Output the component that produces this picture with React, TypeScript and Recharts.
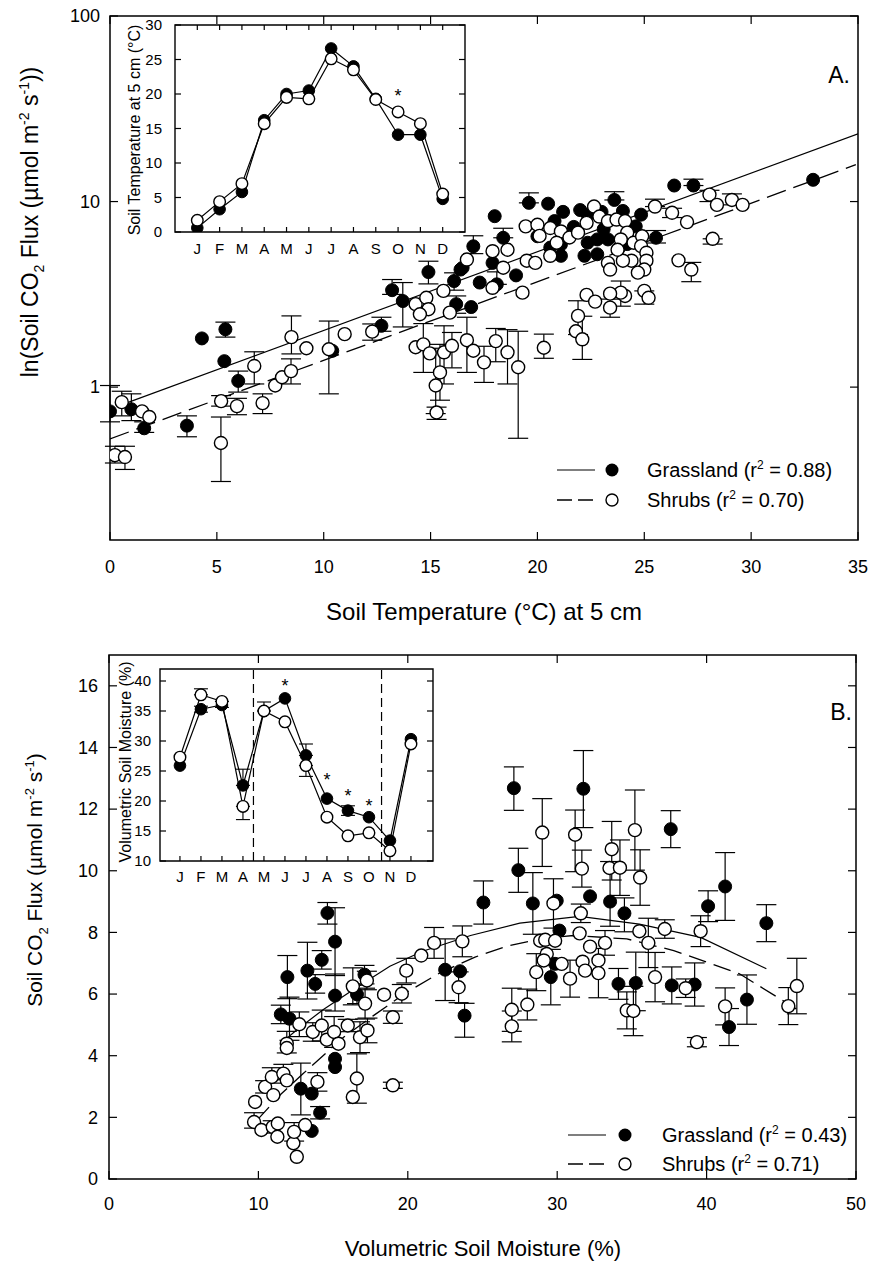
import React from 'react';
import { ScatterChart, Scatter, XAxis, YAxis, ErrorBar, ReferenceArea, ReferenceLine, Label } from 'recharts';

const FONT = '"Liberation Sans", Arial, Helvetica, sans-serif';

// ---------- Panel A: soil temperature vs flux (log) ----------
// rows: [temperature, flux, errLow, errHigh]
const grassTempFlux: number[][] = [
  [0.0, 0.74, 0.09, 0.28], [1.0, 0.76, 0.1, 0.16], [1.6, 0.6, 0.03, 0.05], [3.6, 0.62, 0.08, 0.08],
  [4.3, 1.83], [5.4, 2.05, 0.19, 0.19], [5.35, 1.38], [6.0, 1.08, 0.14, 0.14], [10.4, 1.57],
  [12.7, 2.14, 0.14, 0.24], [13.2, 3.33, 0.17, 0.47], [13.7, 2.91, 0.8, 0.75], [14.9, 4.17, 0.57, 0.6],
  [16.1, 3.73, 0.4, 0.4], [16.4, 4.3], [16.2, 2.8, 0.3, 0.3], [16.9, 2.7], [17.3, 3.66],
  [18.0, 8.34], [19.6, 9.84, 0, 1.3], [20.5, 9.74], [21.2, 8.8], [20.8, 7.85], [17.0, 5.74, 0.5, 0.8],
  [18.4, 6.38, 0, 0.8], [17.9, 4.67], [16.5, 4.4], [18.1, 3.58, 0, 0.6], [21.1, 5.1], [22.2, 5.1],
  [22.8, 5.2], [22.35, 6.0], [22.35, 8.5], [23.6, 10.2, 0, 1.1], [24.0, 8.9], [24.85, 8.5],
  [24.6, 7.35], [23.1, 7.1], [23.3, 6.25], [25.55, 6.38, 0.4, 0.6], [26.4, 12.2], [27.3, 12.2, 0, 1.0],
  [32.9, 13.1], [20.6, 5.65], [21.1, 5.87], [22.8, 6.25], [19.0, 4.0], [20.0, 6.5], [21.7, 7.3],
  [23.8, 5.6], [24.2, 5.9], [22.0, 9.0], [23.0, 8.8],
];
const shrubTempFlux: number[][] = [
  [0.55, 0.83, 0.13, 0.12], [0.23, 0.43, 0.04, 0.05], [0.7, 0.42, 0.06, 0.06], [1.5, 0.74], [1.84, 0.69],
  [5.2, 0.84, 0.05, 0.06], [5.19, 0.5, 0.19, 0.19], [5.94, 0.79, 0.08, 0.08], [6.75, 1.3, 0.26, 0.25],
  [7.14, 0.82, 0.1, 0.1], [7.73, 1.02], [8.05, 1.13], [8.47, 1.22, 0.18, 0.2], [8.49, 1.86, 0.35, 0.56],
  [9.19, 1.62], [10.24, 1.6, 0.68, 0.67], [10.98, 1.93], [12.27, 1.99, 0.2, 0.2], [14.3, 1.64],
  [14.66, 1.7, 0.5, 0.5], [14.96, 1.52], [15.24, 1.02, 0.3, 0.6], [15.44, 1.2, 0.35, 0.5],
  [15.28, 0.73, 0.06, 0.05], [15.63, 1.54, 0.5, 0.6], [16.0, 1.67, 0.4, 0.3], [16.7, 1.79, 0.59, 0.59],
  [17.0, 1.57], [14.3, 2.8], [14.8, 3.03], [14.9, 2.63], [14.5, 2.47], [15.6, 3.3], [15.9, 2.52],
  [16.7, 4.87], [19.45, 7.35], [20.0, 7.5], [20.1, 6.53], [20.6, 7.2], [21.1, 6.9], [20.9, 6.0],
  [21.5, 6.4], [21.9, 6.8], [22.3, 7.68], [22.65, 9.4], [22.9, 8.3], [23.3, 7.85], [23.7, 8.0],
  [24.1, 7.85], [24.2, 6.8], [23.9, 6.25], [24.5, 6.0], [24.9, 6.5], [24.85, 5.75], [25.1, 5.3],
  [25.1, 4.8], [25.0, 4.3], [24.4, 4.8], [24.0, 4.8], [23.3, 4.67], [23.75, 5.5], [23.4, 4.3],
  [24.7, 4.14], [25.5, 9.4, 0, 0.9], [26.3, 8.7, 0.5, 0.5], [27.0, 7.75], [28.05, 10.9, 0.9, 0.6],
  [28.4, 9.6], [29.1, 10.2, 0.6, 0.8], [29.6, 9.6], [28.2, 6.3, 0.4, 0], [26.6, 4.82],
  [27.2, 4.3, 0.6, 0.4], [25.0, 3.3, 0.5, 0], [25.2, 3.03], [24.1, 3.1], [23.9, 3.23, 0.5, 0.5],
  [23.4, 3.19], [23.4, 2.68, 0.3, 0.3], [22.3, 3.14], [22.7, 2.89], [21.9, 2.42, 0.5, 0.5], [21.8, 2.0],
  [22.1, 1.81, 0.4, 0.6], [20.3, 1.63, 0.2, 0.3], [19.1, 1.28, 0.75, 0.72], [18.6, 1.54, 0.5, 0.5],
  [18.05, 1.77, 0.4, 0.3], [17.5, 1.36, 0.3, 0.3], [19.3, 3.23], [17.9, 3.43], [18.4, 4.4], [18.6, 5.5],
  [17.9, 5.4], [19.5, 4.8], [19.9, 4.67], [20.6, 5.1],
];
const grassTempFit: number[][] = [[0.5, 0.8], [35, 23.2]];
const shrubTempFit: number[][] = [[0, 0.526], [34.9, 15.8]];
const tempTicks = [0, 5, 10, 15, 20, 25, 30, 35];
const logFluxTicks = [1, 10, 100];

// ---------- Panel B: soil moisture vs flux ----------
const grassMoistFlux: number[][] = [
  [14.62, 8.63, 0.36, 0.34], [15.13, 7.7, 1.1, 1.1], [14.24, 7.11, 0.3, 0.3], [13.28, 6.76, 0.92, 0.92],
  [13.8, 6.33, 0.3, 0.3], [11.94, 6.55, 0.7, 0.7], [15.13, 5.95, 0.5, 0.7], [11.5, 5.34, 0.3, 0.3],
  [12.08, 5.2, 0.7, 0.7], [17.1, 6.63, 0.3, 0.3], [16.6, 5.99, 0.3, 0.3], [15.13, 3.9], [15.13, 3.63],
  [12.84, 2.93, 0.85, 0.83], [13.57, 2.77], [14.13, 2.15, 0.2, 0.2], [13.57, 1.56], [22.5, 6.79, 1.0, 1.0],
  [23.5, 6.74], [23.8, 5.3, 0.7, 0.4], [27.1, 12.68, 0.72, 0.69], [31.75, 12.66, 1.26, 1.24],
  [37.6, 11.35, 0.6, 0.6], [27.4, 10.02, 0.72, 0.71], [25.06, 8.97, 0.7, 0.7], [28.37, 8.94, 1.0, 1.0],
  [29.97, 9.03], [32.2, 9.17], [33.54, 9.0, 0.8, 1.3], [34.5, 8.62, 0.6, 0.5], [40.1, 8.85, 0.5, 0.5],
  [41.24, 9.49, 1.1, 1.1], [44.0, 8.3, 0.6, 0.6], [30.15, 8.06], [29.57, 6.55, 0.9, 0.9], [29.86, 6.98],
  [34.1, 6.33, 0.5, 0.5], [35.26, 6.36, 0.9, 1.0], [37.67, 6.28, 0.6, 0.6], [39.2, 6.31, 0.7, 0.7],
  [42.7, 5.82, 0.8, 0.8], [41.5, 4.93, 0.6, 0.6],
];
const shrubMoistFlux: number[][] = [
  [9.78, 2.5], [9.71, 1.85, 0.2, 0.3], [10.2, 1.59], [10.45, 2.99, 0.2, 0.2], [10.9, 3.31, 0.2, 0.3],
  [11.0, 2.72], [10.96, 1.69, 0.2, 0.2], [11.3, 1.8], [11.27, 1.37], [11.67, 3.42, 0.2, 0.3], [11.9, 3.2],
  [11.9, 4.39, 0.3, 0.4], [11.9, 4.25], [12.34, 1.16], [12.39, 1.53, 0.3, 0.3], [12.57, 0.72],
  [12.74, 5.02, 0.4, 0.4], [13.13, 1.75], [13.64, 4.77, 0.3, 0.3], [13.95, 3.15, 0.3, 0.3],
  [14.24, 4.98, 0.5, 0.5], [14.58, 4.52], [15.07, 4.77, 0.5, 0.5], [15.36, 4.39], [15.98, 4.98, 0.2, 0.2],
  [16.32, 6.25, 0.6, 0.6], [16.8, 4.6, 0.5, 0.5], [17.3, 4.82, 0.4, 0.4], [17.14, 5.69, 0.5, 0.5],
  [17.26, 6.44, 0.3, 0.3], [16.59, 3.26, 0.8, 0.8], [16.32, 2.66], [18.41, 5.98], [19.0, 5.25, 0.2, 0.2],
  [19.0, 3.04, 0.1, 0.1], [19.6, 6.01, 0.3, 0.3], [19.9, 6.76, 0.4, 0.4], [20.9, 7.25], [21.76, 7.66, 0.5, 0.5],
  [23.65, 7.71, 0.5, 0.5], [23.4, 6.22, 0.5, 0.5], [29.0, 11.24, 1.1, 1.1], [31.2, 11.17, 1.2, 0.8],
  [35.2, 11.32, 1.3, 1.3], [33.65, 10.7, 1.0, 0.9], [33.5, 10.09], [34.2, 10.1, 0.9, 0.9],
  [31.65, 10.07, 0.6, 0.6], [35.55, 9.78, 0.9, 0.9], [29.75, 8.94, 0.8, 0.8], [31.58, 8.62, 0.3, 0.3],
  [28.86, 7.73], [29.2, 7.76], [29.86, 7.73], [31.5, 7.97], [32.2, 7.54], [33.2, 7.66, 0.4, 0.4],
  [35.5, 8.04], [36.1, 7.66, 0.8, 0.8], [37.2, 8.11, 0.3, 0.3], [39.6, 8.04, 0.5, 0.5], [29.3, 7.3],
  [29.1, 7.09], [28.6, 6.71, 0.6, 0.6], [30.3, 6.98], [30.86, 6.5, 0.6, 0.6], [31.7, 7.05], [32.76, 7.09],
  [32.76, 6.68, 0.8, 0.8], [31.87, 6.76], [36.55, 6.55, 0.8, 0.8], [38.6, 6.19, 0.3, 0.3],
  [41.24, 5.6, 0.6, 0.6], [45.47, 5.61, 0.6, 0.6], [46.04, 6.26, 0.9, 0.9], [26.96, 5.49, 0.7, 0.7],
  [28.0, 5.66, 0.5, 0.5], [26.96, 4.95, 0.5, 0.5], [34.66, 5.47, 0.6, 0.6], [35.1, 5.45, 0.8, 0.8],
  [39.35, 4.44, 0.15, 0.15],
];
const grassMoistFit: number[][] = [
  [11.5, 4.4], [12.6, 4.85], [14.35, 5.5], [16.6, 6.22], [18.8, 6.9], [21, 7.39], [24.2, 7.9],
  [27.5, 8.3], [31.5, 8.52], [35.5, 8.27], [39.6, 7.84], [44, 6.82],
];
const shrubMoistFit: number[][] = [
  [9.9, 1.9], [11.5, 2.75], [13, 3.42], [15.7, 4.6], [17.7, 5.3], [19.9, 6.05], [22.2, 6.7], [24.5, 7.2],
  [26.6, 7.55], [29, 7.8], [31.1, 7.9], [34.66, 7.79], [37.8, 7.41], [42.2, 6.66], [46, 5.52],
];
const moistTicks = [0, 10, 20, 30, 40, 50];
const fluxTicks = [0, 2, 4, 6, 8, 10, 12, 14, 16];

// ---------- Insets ----------
const MONTHS = ['J', 'F', 'M', 'A', 'M', 'J', 'J', 'A', 'S', 'O', 'N', 'D'];
const MONTH_IDX = [0, 1, 2, 3, 4, 5, 6, 7, 8, 9, 10, 11];
const grassMonthTemp = [0.6, 3.3, 5.8, 16.2, 20.0, 20.5, 26.6, 24.0, 19.3, 14.1, 14.1, 4.8];
const shrubMonthTemp = [1.7, 4.4, 7.0, 15.7, 19.5, 19.3, 25.1, 23.5, 19.2, 17.4, 15.7, 5.5];
const tempStarMonths = [9];
const tempStarLevels = [20.3];
const insetTempTicks = [0, 5, 10, 15, 20, 25, 30];

const grassMonthMoist = [25.9, 35.3, 36.0, 22.6, 35.0, 37.1, 27.6, 20.4, 18.4, 17.3, 13.4, 30.3];
const grassMonthMoistErr: (number[] | null)[] = [null, [0.5, 0.5], [0.4, 0.6], [0, 2.7], null, null, [0, 1.9], null, [0.8, 0.8], null, null, null];
const shrubMonthMoist = [27.3, 37.7, 36.6, 19.1, 35.0, 33.2, 25.9, 17.3, 14.2, 14.7, 11.7, 29.5];
const shrubMonthMoistErr: (number[] | null)[] = [null, [0, 1.0], null, [2.2, 0], [0, 1.5], null, [1.8, 0], null, null, null, null, null];
const moistStarMonths = [5, 7, 8, 9];
const moistStarLevels = [39.8, 24.1, 21.5, 19.9];
const moistDividers = [3.5, 9.6];
const insetMoistTicks = [10, 15, 20, 25, 30, 35, 40];

// ---------- helpers ----------
const pts = (rows: number[][]) =>
  rows.map((r) => ({ x: r[0], y: r[1], err: r.length > 2 ? [r[2], r[3]] : undefined }));
const monthPts = (vals: number[], errs?: (number[] | null)[]) =>
  vals.map((v, i) => ({ x: i, y: v, err: errs && errs[i] ? errs[i] : undefined }));
const starPts = (months: number[], levels: number[]) => months.map((m, i) => ({ x: m, y: levels[i] }));

const filledDot = (r: number) => (p: any) => (
  <circle cx={p.cx} cy={p.cy} r={r} fill="#000" stroke="#000" strokeWidth={1} />
);
const openDot = (r: number) => (p: any) => (
  <circle cx={p.cx} cy={p.cy} r={r} fill="#fff" stroke="#000" strokeWidth={1.4} />
);
const noDot = () => <g />;
const starShape = (p: any) => (
  <text x={p.cx} y={p.cy + 10} textAnchor="middle" fontSize={18} fontFamily={FONT} fill="#000" stroke="none">*</text>
);

const makeXTick = (bottom: number, top: number | null, len: number, fs: number, labelY: number, fmt?: (v: any) => string) =>
  (props: any) => {
    const x = props.x;
    const v = props.payload.value;
    return (
      <g>
        <line x1={x} x2={x} y1={bottom} y2={bottom - len} stroke="#000" strokeWidth={1.2} />
        {top !== null && <line x1={x} x2={x} y1={top} y2={top + len} stroke="#000" strokeWidth={1.2} />}
        <text x={x} y={labelY} textAnchor="middle" fontSize={fs} fontFamily={FONT} fill="#000" stroke="none">
          {fmt ? fmt(v) : String(v)}
        </text>
      </g>
    );
  };
const makeYTick = (left: number, right: number, len: number, fs: number, labelX: number) =>
  (props: any) => {
    const y = props.y;
    const v = props.payload.value;
    return (
      <g>
        <line x1={left} x2={left + len} y1={y} y2={y} stroke="#000" strokeWidth={1.2} />
        <line x1={right} x2={right - len} y1={y} y2={y} stroke="#000" strokeWidth={1.2} />
        <text x={labelX} y={y} dy="0.35em" textAnchor="end" fontSize={fs} fontFamily={FONT} fill="#000" stroke="none">
          {String(v)}
        </text>
      </g>
    );
  };

const LegendRows = ({ lx1, lx2, cx, tx, y1, y2, r1, r2 }: any) => (
  <g fontFamily={FONT}>
    <line x1={lx1} x2={lx2} y1={y1} y2={y1} stroke="#000" strokeWidth={1.2} />
    <circle cx={cx} cy={y1} r={6.5} fill="#000" />
    <text x={tx} y={y1 + 7} fontSize={20} fill="#000">
      Grassland (r<tspan dy={-8} fontSize={12}>2</tspan><tspan dy={8}> = {r1})</tspan>
    </text>
    <line x1={lx1} x2={lx2} y1={y2} y2={y2} stroke="#000" strokeWidth={1.6} strokeDasharray="15 6" />
    <circle cx={cx} cy={y2} r={6} fill="#fff" stroke="#000" strokeWidth={1.4} />
    <text x={tx} y={y2 + 7} fontSize={20} fill="#000">
      Shrubs (r<tspan dy={-8} fontSize={12}>2</tspan><tspan dy={8}> = {r2})</tspan>
    </text>
  </g>
);

// ---------- Panel A ----------
const A = { left: 110, right: 858, top: 16, bottom: 540 };

function PanelA() {
  return (
    <ScatterChart width={870} height={640} margin={{ top: 16, right: 12, bottom: 60, left: 50 }}>
      <XAxis type="number" dataKey="x" domain={[0, 35]} ticks={tempTicks} interval={0} height={40}
        axisLine={false} tickLine={false} allowDataOverflow
        tick={makeXTick(A.bottom, A.top, 8, 18, 573)}>
        <Label content={() => (
          <g fontFamily={FONT}>
            <text x={484} y={620} textAnchor="middle" fontSize={24} fill="#000">Soil Temperature (°C) at 5 cm</text>
            <text x={850} y={83} textAnchor="end" fontSize={23} fill="#000">A.</text>
            <LegendRows lx1={557} lx2={595} cx={612} tx={647} y1={470} y2={500} r1="0.88" r2="0.70" />
          </g>
        )} />
      </XAxis>
      <YAxis type="number" dataKey="y" scale="log" domain={[0.15, 100]} ticks={logFluxTicks} interval={0}
        width={60} axisLine={false} tickLine={false} allowDataOverflow
        tick={makeYTick(A.left, A.right, 8, 18, 100)}>
        <Label content={() => (
          <text transform="translate(38,222) rotate(-90)" textAnchor="middle" fontFamily={FONT} fontSize={23} fill="#000">
            ln(Soil CO<tspan dy={6} fontSize={14}>2</tspan><tspan dy={-6}> Flux (µmol m</tspan>
            <tspan dy={-9} fontSize={14}>-2</tspan><tspan dy={9}> s</tspan>
            <tspan dy={-9} fontSize={14}>-1</tspan><tspan dy={9}>))</tspan>
          </text>
        )} />
      </YAxis>
      <ReferenceArea x1={0} x2={35} y1={0.15} y2={100} fill="none" stroke="#000" strokeWidth={1.5} ifOverflow="visible" />
      <Scatter data={pts(grassTempFit)} shape={noDot} line={{ stroke: '#000', strokeWidth: 1.2 }} isAnimationActive={false} />
      <Scatter data={pts(shrubTempFit)} shape={noDot} line={{ stroke: '#000', strokeWidth: 1.3, strokeDasharray: '20 8' }} isAnimationActive={false} />
      <Scatter data={pts(grassTempFlux)} shape={filledDot(6.5)} isAnimationActive={false}>
        <ErrorBar dataKey="err" direction="y" width={10} stroke="#000" strokeWidth={1.2} />
      </Scatter>
      <Scatter data={pts(shrubTempFlux)} shape={openDot(6.5)} isAnimationActive={false}>
        <ErrorBar dataKey="err" direction="y" width={10} stroke="#000" strokeWidth={1.2} />
      </Scatter>
    </ScatterChart>
  );
}

const IA = { left: 175, right: 465, top: 25, bottom: 232 };
function InsetA() {
  return (
    <ScatterChart width={480} height={270} margin={{ top: IA.top, right: 480 - IA.right, bottom: 270 - IA.bottom - 30, left: IA.left - 40 }}>
      <XAxis type="number" dataKey="x" domain={[-1, 12]} ticks={MONTH_IDX} interval={0} height={30}
        axisLine={false} tickLine={false} allowDataOverflow
        tick={makeXTick(IA.bottom, IA.top, 5, 15, 254, (v) => MONTHS[v])} />
      <YAxis type="number" dataKey="y" domain={[0, 30]} ticks={insetTempTicks} interval={0} width={40}
        axisLine={false} tickLine={false} allowDataOverflow
        tick={makeYTick(IA.left, IA.right, 6, 15, 162)}>
        <Label content={() => (
          <text transform="translate(140,130) rotate(-90)" textAnchor="middle" fontFamily={FONT} fontSize={16} fill="#000">
            Soil Temperature at 5 cm (°C)
          </text>
        )} />
      </YAxis>
      <ReferenceArea x1={-1} x2={12} y1={0} y2={30} fill="none" stroke="#000" strokeWidth={1.4} ifOverflow="visible" />
      <Scatter data={monthPts(grassMonthTemp)} shape={filledDot(5.8)} line={{ stroke: '#000', strokeWidth: 1.2 }} isAnimationActive={false} />
      <Scatter data={monthPts(shrubMonthTemp)} shape={openDot(5.8)} line={{ stroke: '#000', strokeWidth: 1.2 }} isAnimationActive={false} />
      <Scatter data={starPts(tempStarMonths, tempStarLevels)} shape={starShape} isAnimationActive={false} />
    </ScatterChart>
  );
}

// ---------- Panel B ----------
const B = { left: 109, right: 856, top: 15, bottom: 539 };
function PanelB() {
  return (
    <ScatterChart width={870} height={623} margin={{ top: 15, right: 14, bottom: 44, left: 49 }}>
      <XAxis type="number" dataKey="x" domain={[0, 50]} ticks={moistTicks} interval={0} height={40}
        axisLine={false} tickLine={false} allowDataOverflow
        tick={makeXTick(B.bottom, B.top, 8, 18, 570)}>
        <Label content={() => (
          <g fontFamily={FONT}>
            <text x={483} y={616} textAnchor="middle" fontSize={22} fill="#000">Volumetric Soil Moisture (%)</text>
            <text x={852} y={80} textAnchor="end" fontSize={23} fill="#000">B.</text>
            <LegendRows lx1={568} lx2={606} cx={625} tx={662} y1={495} y2={524} r1="0.43" r2="0.71" />
          </g>
        )} />
      </XAxis>
      <YAxis type="number" dataKey="y" domain={[0, 17]} ticks={fluxTicks} interval={0} width={60}
        axisLine={false} tickLine={false} allowDataOverflow
        tick={makeYTick(B.left, B.right, 8, 18, 98)}>
        <Label content={() => (
          <text transform="translate(42,240) rotate(-90)" textAnchor="middle" fontFamily={FONT} fontSize={21} fill="#000">
            Soil CO<tspan dy={6} fontSize={13}>2</tspan><tspan dy={-6}> Flux (µmol m</tspan>
            <tspan dy={-8} fontSize={13}>-2</tspan><tspan dy={8}> s</tspan>
            <tspan dy={-8} fontSize={13}>-1</tspan><tspan dy={8}>)</tspan>
          </text>
        )} />
      </YAxis>
      <ReferenceArea x1={0} x2={50} y1={0} y2={17} fill="none" stroke="#000" strokeWidth={1.5} ifOverflow="visible" />
      <Scatter data={pts(grassMoistFit)} shape={noDot} line={{ stroke: '#000', strokeWidth: 1.2 }} isAnimationActive={false} />
      <Scatter data={pts(shrubMoistFit)} shape={noDot} line={{ stroke: '#000', strokeWidth: 1.3, strokeDasharray: '18 8' }} isAnimationActive={false} />
      <Scatter data={pts(grassMoistFlux)} shape={filledDot(6.5)} isAnimationActive={false}>
        <ErrorBar dataKey="err" direction="y" width={10} stroke="#000" strokeWidth={1.2} />
      </Scatter>
      <Scatter data={pts(shrubMoistFlux)} shape={openDot(6.5)} isAnimationActive={false}>
        <ErrorBar dataKey="err" direction="y" width={10} stroke="#000" strokeWidth={1.2} />
      </Scatter>
    </ScatterChart>
  );
}

const IB = { left: 160, right: 433, top: 29, bottom: 221 };
function InsetB() {
  return (
    <ScatterChart width={450} height={260} margin={{ top: IB.top, right: 450 - IB.right, bottom: 260 - IB.bottom - 30, left: IB.left - 40 }}>
      <XAxis type="number" dataKey="x" domain={[-0.95, 12.05]} ticks={MONTH_IDX} interval={0} height={30}
        axisLine={false} tickLine={false} allowDataOverflow
        tick={makeXTick(IB.bottom, null, 5, 15, 242, (v) => MONTHS[v])} />
      <YAxis type="number" dataKey="y" domain={[10, 42]} ticks={insetMoistTicks} interval={0} width={40}
        axisLine={false} tickLine={false} allowDataOverflow
        tick={makeYTick(IB.left, IB.right, 6, 15, 151)}>
        <Label content={() => (
          <text transform="translate(131,122) rotate(-90)" textAnchor="middle" fontFamily={FONT} fontSize={16} fill="#000">
            Volumetric Soil Moisture (%)
          </text>
        )} />
      </YAxis>
      <ReferenceArea x1={-0.95} x2={12.05} y1={10} y2={42} fill="none" stroke="#000" strokeWidth={1.4} ifOverflow="visible" />
      {moistDividers.map((d) => (
        <ReferenceLine key={d} x={d} stroke="#000" strokeWidth={1.2} strokeDasharray="9 5" />
      ))}
      <Scatter data={monthPts(grassMonthMoist, grassMonthMoistErr)} shape={filledDot(5.8)} line={{ stroke: '#000', strokeWidth: 1.2 }} isAnimationActive={false}>
        <ErrorBar dataKey="err" direction="y" width={7} stroke="#000" strokeWidth={1.1} />
      </Scatter>
      <Scatter data={monthPts(shrubMonthMoist, shrubMonthMoistErr)} shape={openDot(5.8)} line={{ stroke: '#000', strokeWidth: 1.2 }} isAnimationActive={false}>
        <ErrorBar dataKey="err" direction="y" width={7} stroke="#000" strokeWidth={1.1} />
      </Scatter>
      <Scatter data={starPts(moistStarMonths, moistStarLevels)} shape={starShape} isAnimationActive={false} />
    </ScatterChart>
  );
}

export default function App() {
  return (
    <div style={{ position: 'absolute', left: 0, top: 0, width: 870, height: 1263, background: '#fff' }}>
      <div style={{ position: 'absolute', left: 0, top: 0 }}><PanelA /></div>
      <div style={{ position: 'absolute', left: 0, top: 0 }}><InsetA /></div>
      <div style={{ position: 'absolute', left: 0, top: 640 }}><PanelB /></div>
      <div style={{ position: 'absolute', left: 0, top: 640 }}><InsetB /></div>
    </div>
  );
}
